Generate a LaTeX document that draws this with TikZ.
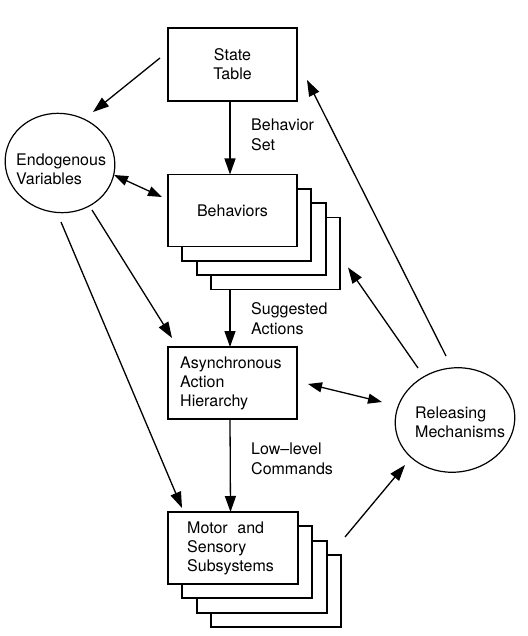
\documentclass[tikz,border=0pt]{standalone}
\usepackage{fontspec}
\setmainfont{TeX Gyre Heros}
\usetikzlibrary{arrows.meta,shapes.geometric}
\begin{document}
\begin{tikzpicture}[x=1pt,y=-1pt,
  box/.style={draw,line width=1.7pt,fill=white,minimum width=129pt,minimum height=72pt,inner sep=0pt,outer sep=0pt,align=center},
  txt/.style={inner sep=0pt,align=left,anchor=west},
  blob/.style={draw,ellipse,line width=1.2pt,inner sep=0pt},
  arr/.style={line width=1.3pt,-{Triangle[length=16pt,width=11pt]}},
  darr/.style={line width=1.3pt,{Triangle[length=14pt,width=10pt]}-{Triangle[length=14pt,width=10pt]}},
  font=\fontsize{16}{19}\selectfont]
\useasboundingbox (0,0) rectangle (527,636);
% State table
\node[box,minimum height=73pt] (st) at (232.5,64.5) {State\\Table};
% Behaviors stack
\node[box] (beh4) at (275.5,253.5) {};
\node[box] (beh3) at (261.2,239.2) {};
\node[box] (beh2) at (246.8,224.8) {};
\node[box] (beh) at (232.5,210.5) {Behaviors};
% Asynchronous action hierarchy
\node[box] (aah) at (232.5,383) {};
\node[txt] (aaht) at (180,383.5) {Asynchronous\\Action\\Hierarchy};
% Motor and sensory subsystems
\node[box,minimum width=130pt] (mss4) at (276,591) {};
\node[box,minimum width=130pt] (mss3) at (261.7,576.7) {};
\node[box,minimum width=130pt] (mss2) at (247.3,562.3) {};
\node[box,minimum width=130pt] (mss) at (233,548) {};
\node[txt] (msst) at (187,548.5) {Motor\hspace{0.6em}and\\Sensory\\Subsystems};
% Ellipses
\node[blob,minimum width=110pt,minimum height=99pt,rotate=-10] (endo) at (60,163) {};
\node[txt] (endot) at (16,169.5) {Endogenous\\Variables};
\node[blob,minimum width=120pt,minimum height=104pt,rotate=10] (rm) at (455,420) {};
\node[txt] (rmt) at (415,422.5) {Releasing\\Mechanisms};
% Labels
\node[txt,font=\fontsize{16}{20}\selectfont] (l1) at (251,135) {Behavior\\Set};
\node[txt,font=\fontsize{16}{20}\selectfont] (l2) at (251,318.5) {Suggested\\Actions};
\node[txt,font=\fontsize{16}{20}\selectfont] (l3) at (251,458.5) {Low--level\\Commands};
% vertical connectors
\coordinate (c1) at ([xshift=-2.5pt]st.south);
\coordinate (c2) at ([xshift=-2.5pt]beh.north);
\coordinate (c3) at ([xshift=-2.5pt]aah.north);
\coordinate (c4) at ([xshift=-2.5pt]aah.south);
\coordinate (c5) at ([xshift=-2.5pt]mss.north);
\draw[arr] (c1) -- (c2);
\draw[arr] (beh4.south -| c3) -- (c3);
\draw[arr] (c4) -- (c5);
% other connectors
\draw[arr] ([shift={(-8,-6.5)}]st.west) -- ([shift={(33,-51)}]endo.center);
\draw[darr] ([shift={(54,12)}]endo.center) -- ([shift={(-6,-13.5)}]beh.west);
\draw[arr] ([shift={(32,47)}]endo.center) -- ([shift={(4,-9)}]aah.north west);
\draw[arr] ([shift={(1,59)}]endo.center) -- ([shift={(14,-4)}]mss.north west);
\draw[arr] ([shift={(-9,-64)}]rm.center) -- ([shift={(10,15.5)}]st.east);
\draw[arr] ([shift={(-37,-52)}]rm.center) -- ([shift={(8,-22)}]beh4.south east);
\draw[darr] ([shift={(11,1)}]aah.east) -- ([shift={(-73,-18)}]rm.center);
\draw[arr] ([shift={(4,-18)}]mss4.north east) -- ([shift={(-50,45)}]rm.center);
\end{tikzpicture}
\end{document}
